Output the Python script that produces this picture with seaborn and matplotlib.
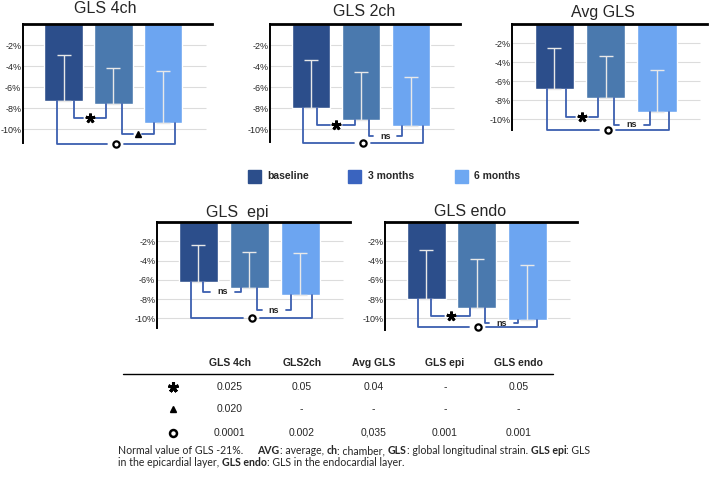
import numpy as np
import pandas as pd
import seaborn as sns
import matplotlib.pyplot as plt
from matplotlib.patches import Rectangle

# values (GLS in %, bars hang down from 0)
timepoints = ["baseline", "3 months", "6 months"]
titles = ["GLS 4ch", "GLS 2ch", "Avg GLS", "GLS  epi", "GLS endo"]
baseline_vals = [-7.3, -8.0, -6.8, -6.2, -8.0]
month3_vals = [-7.6, -9.1, -7.7, -6.8, -8.95]
month6_vals = [-9.4, -9.7, -9.2, -7.6, -10.15]
baseline_err = [4.4, 4.6, 4.3, 3.8, 5.05]
month3_err = [3.4, 4.5, 4.4, 3.7, 5.15]
month6_err = [4.9, 4.7, 4.4, 4.4, 5.65]

# significance marks per panel: (bar a, bar b, symbol)
sig_pairs = [
    [(0, 1, "*"), (1, 2, "^"), (0, 2, "o")],
    [(0, 1, "*"), (1, 2, "ns"), (0, 2, "o")],
    [(0, 1, "*"), (1, 2, "ns"), (0, 2, "o")],
    [(0, 1, "ns"), (1, 2, "ns"), (0, 2, "o")],
    [(0, 1, "*"), (1, 2, "ns"), (0, 2, "o")],
]

# p-value table
table_cols = ["GLS 4ch", "GLS2ch", "Avg GLS", "GLS epi", "GLS endo"]
p_star = ["0.025", "0.05", "0.04", "-", "0.05"]
p_triangle = ["0.020", "-", "-", "-", "-"]
p_circle = ["0.0001", "0.002", "0,035", "0.001", "0.001"]

bar_colors = ["#2c4e8b", "#4a79ae", "#6ca5f1"]
legend_colors = ["#2c4e8b", "#3a64bf", "#6ea8f2"]
bracket_color = "#3c5fb0"

sns.set_style("white")
plt.rcParams["font.family"] = ["Liberation Sans", "DejaVu Sans"]

W, H = 709, 480
fig = plt.figure(figsize=(W / 100, H / 100), dpi=100)

# panel layout in pixels: left, right, top, bottom, lowest y value
boxes = [(22.7, 212, 24, 143, -11.3),
         (270, 460, 24, 141.7, -11.2),
         (512.3, 707, 24, 130, -11.1),
         (156.7, 350, 222, 328, -11.0),
         (385, 576.7, 222, 330, -11.2)]
# bracket geometry per panel: (offset on bar a, offset on bar b, level)
bracket_geo = [
    [(0.2, -0.15, -8.95), (0.17, -0.19, -10.48), (-0.14, 0.24, -11.43)],
    [(0.12, -0.12, -9.6), (0.15, -0.18, -10.7), (-0.17, 0.23, -11.3)],
    [(0.22, -0.14, -9.76), (0.16, -0.14, -10.55), (-0.15, 0.23, -11.1)],
    [(0.1, -0.16, -7.25), (0.15, -0.18, -9.15), (-0.15, 0.24, -10.0)],
    [(0.1, -0.13, -9.74), (0.16, -0.18, -10.5), (-0.17, 0.2, -10.9)],
]
gap = {"*": 0.13, "^": 0.09, "o": 0.17, "ns": 0.24}
xlo, xhi = -0.82, 2.98
ticks = [-2, -4, -6, -8, -10]
star = (5, 2, 0)

for k in range(5):
    l, r, t, b, ylow = boxes[k]
    ax = fig.add_axes([l / W, 1 - b / H, (r - l) / W, (b - t) / H])
    vals = [baseline_vals[k], month3_vals[k], month6_vals[k]]
    errs = [baseline_err[k], month3_err[k], month6_err[k]]
    df = pd.DataFrame({"time": timepoints, "value": vals})
    sns.barplot(data=df, x="time", y="value", hue="time", palette=bar_colors,
                width=0.77, errorbar=None, legend=False, saturation=1, ax=ax, zorder=2)
    ax.errorbar(range(3), vals, yerr=[np.zeros(3), errs], fmt="none",
                ecolor="#e8e8e8", elinewidth=1, capsize=5, capthick=1, zorder=3)
    ax.hlines(ticks, xlo, 2.85, color="#dcdcdc", lw=0.8, zorder=1)
    ax.set_xlim(xlo, xhi)
    ax.set_ylim(ylow, 0)
    ax.set_yticks(ticks)
    ax.set_yticklabels([f"{v}%" for v in ticks], fontsize=6.5)
    ax.tick_params(axis="y", length=0, pad=1)
    ax.set_xticks([])
    ax.set_xlabel("")
    ax.set_ylabel("")
    ax.spines["right"].set_visible(False)
    ax.spines["bottom"].set_visible(False)
    ax.spines["top"].set_linewidth(2)
    ax.spines["left"].set_linewidth(1.4)
    ax.spines["top"].set_color("black")
    ax.spines["left"].set_color("black")
    ax.patch.set_alpha(0)

    for (a, bb, sym), (da, db, lev) in zip(sig_pairs[k], bracket_geo[k]):
        xa, xb = a + da, bb + db
        mid = (xa + xb) / 2
        g = gap[sym]
        kw = dict(color=bracket_color, lw=1.3, clip_on=False, zorder=4)
        ax.plot([xa, xa, mid - g], [vals[a], lev, lev], **kw)
        ax.plot([mid + g, xb, xb], [lev, lev, vals[bb]], **kw)
        if sym == "*":
            ax.plot(mid, lev, marker=star, ms=7, mew=2.0, color="black",
                    clip_on=False, zorder=5)
        elif sym == "^":
            ax.plot(mid, lev, marker="^", ms=4, color="black", clip_on=False, zorder=5)
        elif sym == "o":
            ax.plot(mid, lev, marker="o", ms=4.5, mfc="white", mec="black", mew=1.6,
                    clip_on=False, zorder=5)
        else:
            ax.text(mid, lev, "ns", ha="center", va="center", fontsize=6.5,
                    fontweight="bold")

# overlay in pixel coordinates for titles, legend, table and note
ov = fig.add_axes([0, 0, 1, 1])
ov.set_xlim(0, W)
ov.set_ylim(H, 0)
ov.axis("off")
ov.patch.set_alpha(0)

title_pos = [(105, 8.5), (364, 11.5), (603, 12.5), (237, 212), (470, 212)]
for (x, y), txt in zip(title_pos, titles):
    ov.text(x, y, txt, ha="center", va="center", fontsize=11.5)

for x, c, lab in zip([248, 348, 455], legend_colors, timepoints):
    ov.add_patch(Rectangle((x, 170), 12.7, 12.7, color=c))
    ov.text(x + 19.5, 176.3, lab, ha="left", va="center", fontsize=7.5, fontweight="bold")

col_x = [230, 301.7, 373.3, 445, 518.3]
for x, c in zip(col_x, table_cols):
    ov.text(x, 362.7, c, ha="center", va="center", fontsize=7.5, fontweight="bold")
ov.plot([123, 553], [374, 374], color="black", lw=1)
row_y = [386.7, 409.3, 432.7]
for y, row in zip(row_y, [p_star, p_triangle, p_circle]):
    for x, v in zip(col_x, row):
        ov.text(x, y, v, ha="center", va="center", fontsize=7.5)
ov.plot(173, row_y[0], marker=star, ms=7.5, mew=2.2, color="black")
ov.plot(173, row_y[1], marker="^", ms=4.5, color="black")
ov.plot(173, row_y[2], marker="o", ms=5, mfc="white", mec="black", mew=1.8)

# footnote with bold pieces, chained one after another
note_lines = [
    [("Normal value of GLS -21%.     ", "normal"), ("AVG", "bold"), (": average, ", "normal"),
     ("ch", "bold"), (": chamber, ", "normal"), ("GLS", "bold"),
     (": global longitudinal strain. ", "normal"), ("GLS epi", "bold"), (": GLS", "normal")],
    [("in the epicardial layer, ", "normal"), ("GLS endo", "bold"),
     (": GLS in the endocardial layer.", "normal")],
]
for y, parts in zip([451, 463], note_lines):
    prev = ov.text(118.5, y, parts[0][0], ha="left", va="center", fontsize=7.6,
                   family="Lato", fontweight=parts[0][1])
    for s, w in parts[1:]:
        prev = ov.annotate(s, xy=(1, 0), xycoords=prev, ha="left", va="bottom",
                           fontsize=7.6, family="Lato", fontweight=w)

fig.savefig("out.png", dpi=100)
